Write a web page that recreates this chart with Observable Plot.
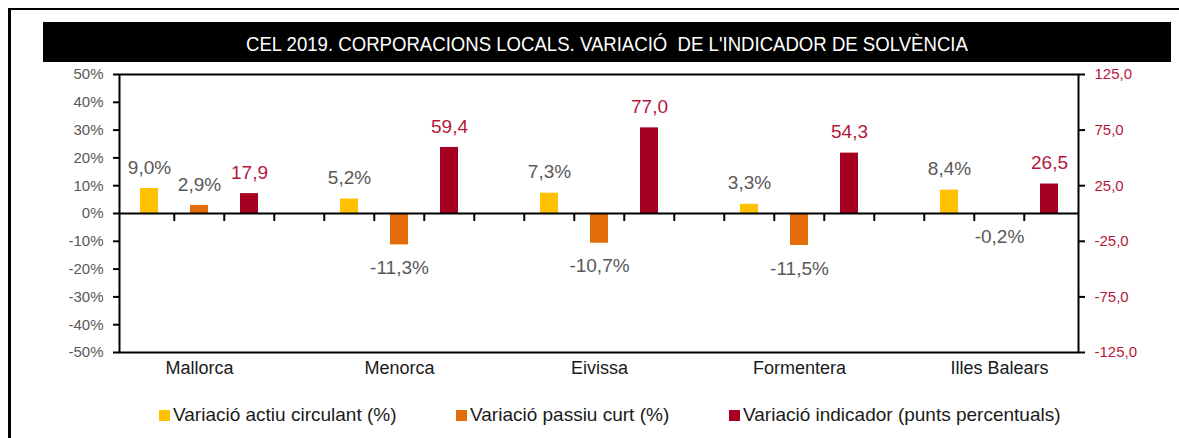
<!DOCTYPE html>
<html><head><meta charset="utf-8">
<script src="https://cdn.jsdelivr.net/npm/d3@7"></script>
<script src="https://cdn.jsdelivr.net/npm/@observablehq/plot@0.6"></script>
<style>
body{margin:0;background:#fff;font-family:"Liberation Sans",Arial,sans-serif;}
#wrap{position:relative;width:1179px;height:438px;overflow:hidden;background:#fff;}
#border{position:absolute;left:8px;top:8px;width:1200px;height:460px;border-top:2px solid #000;border-left:3px solid #000;z-index:5;pointer-events:none;}
#title{position:absolute;left:43px;top:22px;width:1128px;height:40px;background:#000;color:#fff;display:flex;align-items:center;justify-content:center;overflow:hidden;box-sizing:border-box;padding-top:4px;}
#title span{font-size:21px;white-space:pre;display:inline-block;transform-origin:center;}
#chart{position:absolute;left:0;top:60px;}
.leg{position:absolute;top:405px;font-size:19px;line-height:20px;color:#1a1a1a;white-space:pre;}
.sw{display:inline-block;width:11px;height:11px;margin-right:3px;}
</style></head>
<body>
<div id="wrap">
  <div id="title"><span id="ttl"></span></div>
  <div id="chart"></div>
  <div id="legend"></div>
  <div id="border"></div>
</div>
<script>
const titleText = "CEL 2019. CORPORACIONS LOCALS. VARIACIÓ  DE L'INDICADOR DE SOLVÈNCIA";
const islands = ["Mallorca", "Menorca", "Eivissa", "Formentera", "Illes Balears"];
const seriesNames = ["Variació actiu circulant (%)", "Variació passiu curt (%)", "Variació indicador (punts percentuals)"];
const actiu = [9.0, 5.2, 7.3, 3.3, 8.4];
const passiu = [2.9, -11.3, -10.7, -11.5, -0.2];
const indicador = [17.9, 59.4, 77.0, 54.3, 26.5];
const leftTicks = [-50, -40, -30, -20, -10, 0, 10, 20, 30, 40, 50];
const rightTicks = [-125, -75, -25, 25, 75, 125];
const colors = ["#FFC000", "#E46C0A", "#A50021"];
const ratio = 125 / 50; // right axis units per left-axis percent

const fmt = v => v.toFixed(1).replace(".", ",");
const series = [actiu, passiu, indicador];
const rows = [];
islands.forEach((isl, i) => {
  series.forEach((arr, s) => {
    const v = arr[i];
    rows.push({
      island: isl, s, slot: i * 4 + s, value: v,
      y: s === 2 ? v / ratio : v,
      label: s === 2 ? fmt(v) : fmt(v) + "%"
    });
  });
});
const nSlots = islands.length * 4 - 1;
const slots = d3.range(nSlots);
const W = 1179, mL = 119, mR = 101;
const bw = (W - mL - mR) / nSlots;

document.getElementById("ttl").textContent = titleText;

const gray = "#595959", red = "#B5173B";
const chart = Plot.plot({
  width: W, height: 330,
  marginTop: 14, marginBottom: 38, marginLeft: mL, marginRight: mR,
  x: {type: "band", domain: slots, padding: 0, axis: null},
  y: {domain: [-50, 50], axis: null},
  style: {fontFamily: "'Liberation Sans', Arial, sans-serif", fontSize: "15px", background: "transparent", overflow: "visible"},
  marks: [
    Plot.barY(rows, {x: "slot", y: "y", fill: d => colors[d.s], insetLeft: 16, insetRight: 16}),
    Plot.ruleY([0], {stroke: "black", strokeWidth: 2}),
    Plot.ruleX(d3.range(1, nSlots), {x: d => d, y1: 0, y2: -2.9, dx: -bw / 2, stroke: "black", strokeWidth: 2}),
    Plot.frame({stroke: "black", strokeWidth: 2}),
    Plot.axisY({anchor: "left", ticks: leftTicks, tickSize: 6, tickPadding: 10, tickFormat: d => d + "%",
      fill: gray, stroke: "black", strokeWidth: 2, fontSize: 15, label: null}),
    Plot.axisY({anchor: "right", ticks: rightTicks.map(v => v / ratio), tickSize: 6, tickPadding: 10,
      tickFormat: d => fmt(d * ratio), fill: red, stroke: "black", strokeWidth: 2, fontSize: 15, label: null}),
    Plot.axisX({ticks: islands.map((_, i) => i * 4 + 1), tickSize: 0, tickPadding: 9,
      tickFormat: d => islands[(d - 1) / 4], fill: "#1a1a1a", fontSize: 18, label: null}),
    Plot.text(rows.filter(d => d.s < 2 && d.value >= 0), {x: "slot", y: "y", text: "label", dy: -21, fill: gray, fontSize: 19}),
    Plot.text(rows.filter(d => d.s < 2 && d.value < 0), {x: "slot", y: "y", text: "label", dy: 23, fill: gray, fontSize: 19}),
    Plot.text(rows.filter(d => d.s === 2), {x: "slot", y: "y", text: "label", dy: -21, fill: red, fontSize: 19})
  ]
});
document.getElementById("chart").appendChild(chart);

const legendX = [159, 456, 729];
const leg = document.getElementById("legend");
seriesNames.forEach((n, i) => {
  const d = document.createElement("div");
  d.className = "leg";
  d.style.left = legendX[i] + "px";
  d.innerHTML = `<span class="sw" style="background:${colors[i]}"></span>`;
  d.appendChild(document.createTextNode(n));
  leg.appendChild(d);
});

const sp = document.getElementById("ttl");
const w = sp.offsetWidth;
sp.style.transform = `scaleX(${722 / w})`;
</script>
</body></html>
